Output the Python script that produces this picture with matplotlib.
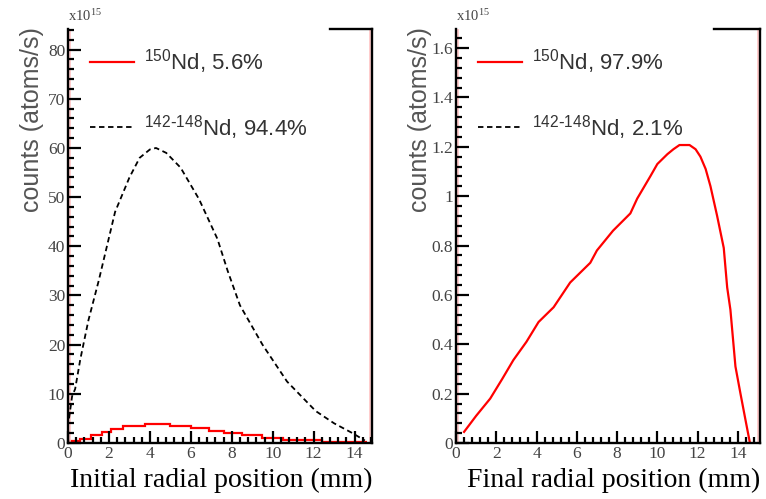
import numpy as np
import matplotlib
matplotlib.use("Agg")
import matplotlib.pyplot as plt
from matplotlib.lines import Line2D
from matplotlib.ticker import MultipleLocator, FormatStrFormatter

plt.rcParams['mathtext.default'] = 'regular'

# ---- data ----
# left panel: initial radial position, units of 1e15 atoms/s
init_other_x = [0.05, 0.2, 0.35, 0.6, 1.0, 1.5, 1.9, 2.3, 3.0, 3.5, 4.0, 4.3, 4.8, 5.5,
                6.4, 7.3, 7.8, 8.4, 9.5, 10.7, 12.1, 13.0, 13.9, 14.5]
init_other_y = [5, 9.5, 11, 17, 25, 33, 40, 47, 54, 58, 59.7, 60, 59, 56,
                49.6, 41.5, 35, 28, 20, 12.5, 6.5, 4, 2, 0.5]

init_150_edges = [0, 0.6, 1.1, 1.65, 2.1, 2.7, 3.75, 5.0, 6.0, 6.9, 7.6, 8.5, 9.5, 10.5, 12.4, 14.6]
init_150_vals = [0.4, 0.9, 1.6, 2.3, 2.9, 3.4, 3.8, 3.5, 3.0, 2.5, 2.1, 1.6, 1.1, 0.55, 0.15]

# right panel: final radial position
final_150_x = [0.4, 1.0, 1.7, 2.3, 2.85, 3.5, 4.1, 4.85, 5.67, 6.67, 7.0, 7.8, 8.66, 9.0,
               9.65, 10.0, 10.5, 10.8, 11.1, 11.6, 11.9, 12.14, 12.4, 12.64, 12.97, 13.3,
               13.47, 13.63, 13.88, 14.13, 14.38, 14.6]
final_150_y = [0.045, 0.11, 0.18, 0.26, 0.336, 0.41, 0.49, 0.55, 0.65, 0.73, 0.78, 0.86, 0.93, 0.99,
               1.08, 1.13, 1.17, 1.19, 1.207, 1.207, 1.19, 1.16, 1.11, 1.04, 0.92, 0.79,
               0.63, 0.54, 0.31, 0.20, 0.093, 0.0]

left_labels = [r"$^{150}$Nd, 5.6%", r"$^{142\text{-}148}$Nd, 94.4%"]
right_labels = [r"$^{150}$Nd, 97.9%", r"$^{142\text{-}148}$Nd, 2.1%"]

xlims = [(0, 14.85), (0, 15.1)]
ylims = [(0, 84.2), (0, 1.677)]
xlabels = ["Initial radial position (mm)", "Final radial position (mm)"]

fig = plt.figure(figsize=(7.66, 4.99), dpi=100)
ax1 = fig.add_axes([68/766, 1-443/499, 304/766, 414/499])
ax2 = fig.add_axes([456/766, 1-443/499, 304/766, 414/499])

red = '#ff0000'
gray = '#444444'
dash = (0, (3, 2))

# left panel curves
ax1.stairs(init_150_vals, init_150_edges, color=red, lw=1.6, baseline=None)
ax1.plot(init_other_x, init_other_y, color='black', lw=1.3, ls=dash)
# right panel curve (the 142-148 share is too small to see)
ax2.plot(final_150_x, final_150_y, color=red, lw=1.6)

h_red = Line2D([], [], color=red, lw=1.6)
h_blk = Line2D([], [], color='black', lw=1.3, ls=dash)

for i, ax in enumerate([ax1, ax2]):
    ax.set_xlim(*xlims[i])
    ax.set_ylim(*ylims[i])
    for s in ['left', 'right', 'bottom', 'top']:
        ax.spines[s].set_linewidth(1.7)
    ax.spines['top'].set_bounds(12.8, xlims[i][1])
    # faint pink lines just inside the side frames
    ax.axvline(xlims[i][0] + 0.09, color='#ffc4c4', lw=1.2, zorder=1)
    ax.axvline(xlims[i][1] - 0.09, color='#ffc4c4', lw=1.2, zorder=1)

    ax.xaxis.set_major_locator(MultipleLocator(2))
    ax.xaxis.set_minor_locator(MultipleLocator(0.4))
    ax.tick_params(which='both', direction='in', top=False, right=False, width=1.6,
                   labelsize=12.5, labelcolor=gray, pad=2)
    ax.tick_params(which='major', length=9)
    ax.tick_params(which='minor', length=4.5)

    ax.text(1.0, -0.09, xlabels[i], transform=ax.transAxes, ha='right', va='center',
            fontsize=20, family='Liberation Serif', color='black')
    ax.text(-0.117, 1.005, 'counts (atoms/s)', transform=ax.transAxes, rotation=90,
            ha='center', va='top', fontsize=18, family='Liberation Sans', color='#555555')
    ax.text(0.0, 1.012, r'x10$^{15}$', transform=ax.transAxes, ha='left', va='bottom',
            fontsize=10.5, family='Liberation Serif', color=gray)

ax1.yaxis.set_major_locator(MultipleLocator(10))
ax1.yaxis.set_minor_locator(MultipleLocator(2))
ax2.yaxis.set_major_locator(MultipleLocator(0.2))
ax2.yaxis.set_minor_locator(MultipleLocator(0.04))
ax2.yaxis.set_major_formatter(FormatStrFormatter('%g'))
for ax in [ax1, ax2]:
    for lab in ax.get_yticklabels() + ax.get_xticklabels():
        lab.set_fontfamily('Liberation Serif')

for ax, labels in [(ax1, left_labels), (ax2, right_labels)]:
    leg = ax.legend([h_red, h_blk], labels, loc='upper left', bbox_to_anchor=(0.072, 0.956),
                    frameon=False, borderpad=0, borderaxespad=0, handlelength=2.0,
                    handletextpad=0.45, labelspacing=1.65,
                    prop={'family': 'Liberation Sans', 'size': 16})
    for t in leg.get_texts():
        t.set_color('#333333')

fig.savefig('out.png', dpi=100)
